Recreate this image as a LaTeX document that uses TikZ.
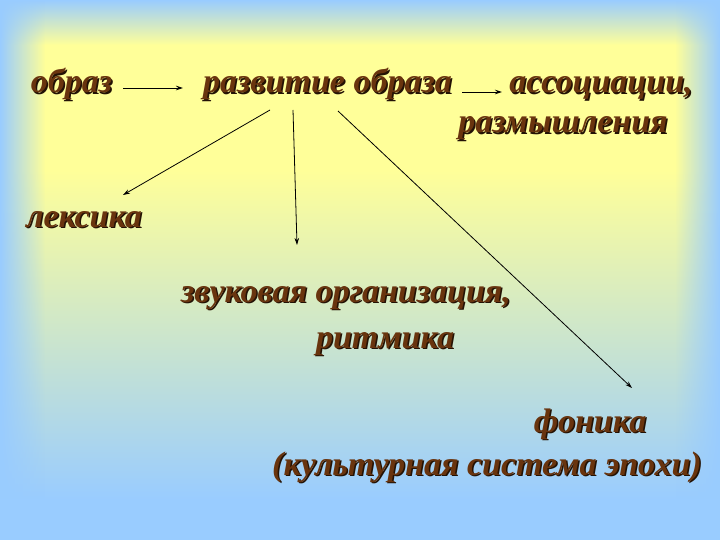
\documentclass[tikz,border=0pt]{standalone}
\usepackage{fontspec}
\setmainfont{Liberation Serif}
\usetikzlibrary{arrows.meta,fadings}

\definecolor{sky-blue}{RGB}{153,204,255}
\definecolor{pale-yellow}{RGB}{255,255,153}
\definecolor{word-brown}{RGB}{105,52,14}
\definecolor{word-shadow}{RGB}{35,18,5}

\tikzfading[name=fade east, left color=transparent!0, right color=transparent!100]
\tikzfading[name=fade west, left color=transparent!100, right color=transparent!0]

\newcommand{\shadowed}[1]{\rlap{\kern1.5pt\raisebox{-1.5pt}{\color{word-shadow}#1}}#1}

\begin{document}
\begin{tikzpicture}[
        x=1pt, y=-1pt,
        word/.style={anchor=base, inner sep=0pt, text=word-brown, font=\fontsize{34}{40}\selectfont\bfseries\itshape},
        arr/.style={-{Stealth[length=7pt,width=4.5pt]}, line width=0.8pt},
    ]
    \useasboundingbox (0,0) rectangle (720,540);
    \fill[pale-yellow] (0,0) rectangle (720,540);
    \shade[top color=sky-blue, bottom color=pale-yellow] (0,0) rectangle (720,45);
    \shade[top color=pale-yellow, bottom color=sky-blue] (0,170) rectangle (720,500);
    \fill[sky-blue] (0,500) rectangle (720,540);
    \fill[sky-blue, path fading=fade east] (0,0) rectangle (45,540);
    \fill[sky-blue, path fading=fade west] (675,0) rectangle (720,540);

    \node[word] (obraz) at (71.5,93) {\shadowed{образ}};
    \node[word] (razvitie) at (327.5,93) {\shadowed{развитие образа}};
    \node[word] (assoc) at (601,93) {\shadowed{ассоциации,}};
    \node[word] (razm) at (563,133) {\shadowed{размышления}};
    \node[word] (leksika) at (84,227) {\shadowed{лексика}};
    \node[word] (zvuk) at (346,302) {\shadowed{звуковая  организация,}};
    \node[word] (ritm) at (385,348) {\shadowed{ритмика}};
    \node[word] (fonika) at (590,432) {\shadowed{фоника}};
    \node[word] (kult) at (487,475) {\shadowed{(культурная  система эпохи)}};

    \draw[arr] ([shift={(51.5,-5)}]obraz.base) -- ([shift={(-144.5,-5)}]razvitie.base);
    \draw[arr] ([shift={(134.5,-1)}]razvitie.base) -- ([shift={(-99,-1)}]assoc.base);
    \draw[arr] ([shift={(-57.5,17)}]razvitie.base) -- ([shift={(39,-32)}]leksika.base);
    \draw[arr] ([shift={(-34.5,17)}]razvitie.base) -- ([shift={(-49,-57)}]zvuk.base);
    \draw[arr] ([shift={(10.5,18)}]razvitie.base) -- ([shift={(42,-44)}]fonika.base);
\end{tikzpicture}
\end{document}
